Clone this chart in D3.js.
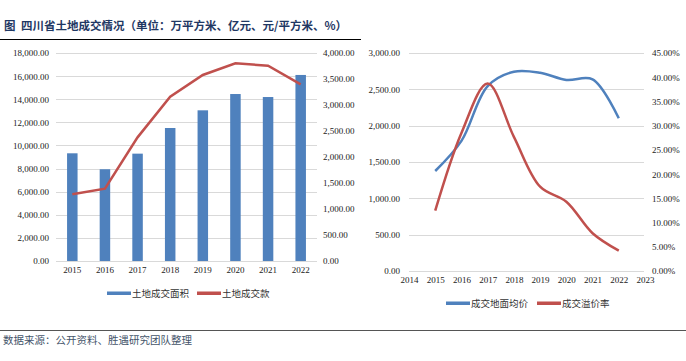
<!DOCTYPE html>
<html lang="zh">
<head>
    <meta charset="UTF-8">
    <title>四川省土地成交情况</title>
    <script src="https://d3js.org/d3.v7.min.js"></script>
</head>
<style>
    body { margin: 0; background: #fff; }
    text { font-family: "Liberation Serif", "DejaVu Serif", serif; fill: #222; }
    .cn { font-family: "Noto Sans CJK SC", sans-serif; }
    .grid line { stroke: #d9d9d9; }
</style>
<body>
<svg id="main" width="686" height="361"></svg>
<script>
    // left chart
    const years = ['2015', '2016', '2017', '2018', '2019', '2020', '2021', '2022'];
    const landArea = [9320, 7940, 9290, 11510, 13040, 14450, 14190, 16100];
    const landPay = [1283, 1391, 2378, 3160, 3577, 3801, 3756, 3397];
    // right chart
    const yearNums = [2015, 2016, 2017, 2018, 2019, 2020, 2021, 2022];
    const avgPrice = [1376, 1790, 2545, 2743, 2729, 2630, 2638, 2101];
    const premium = [0.1245, 0.285, 0.387, 0.277, 0.174, 0.143, 0.078, 0.042];
    const xTicks2 = [2014, 2015, 2016, 2017, 2018, 2019, 2020, 2021, 2022, 2023];

    const blue = '#4f81bd', red = '#c0504d';
    let svg = d3.select('svg#main');

    // title
    svg.append('text').attr('class', 'cn')
        .attr('x', 4).attr('y', 30)
        .style('font-size', '11.5px').style('font-weight', 'bold').style('fill', '#1f3864')
        .text('图');
    svg.append('text').attr('class', 'cn')
        .attr('x', 21).attr('y', 30)
        .style('font-size', '11.5px').style('font-weight', 'bold').style('fill', '#1f3864')
        .text('四川省土地成交情况（单位：万平方米、亿元、元/平方米、%）');
    svg.append('line').attr('x1', 0).attr('x2', 361).attr('y1', 39.5).attr('y2', 39.5)
        .attr('stroke', '#000').attr('stroke-width', 1);

    // ---- left chart ----
    let x1 = d3.scaleBand().domain(years).range([56, 317]);
    let yL = d3.scaleLinear().domain([0, 18000]).range([261, 53]);
    let yR = d3.scaleLinear().domain([0, 4000]).range([261, 53]);

    let g1 = svg.append('g');
    g1.append('g').attr('class', 'grid')
        .selectAll('line').data(yL.ticks(9)).enter().append('line')
        .attr('x1', 56).attr('x2', 317)
        .attr('y1', d => Math.round(yL(d)) + 0.5).attr('y2', d => Math.round(yL(d)) + 0.5);

    g1.append('g').attr('transform', 'translate(49,0)')
        .call(d3.axisLeft(yL).tickValues(d3.range(0, 18001, 2000)).tickFormat(d3.format(',.2f')).tickSize(0).tickPadding(0))
        .call(g => g.select('.domain').remove())
        .selectAll('text').style('font-size', '9px');
    g1.append('g').attr('transform', 'translate(323,0)')
        .call(d3.axisRight(yR).tickValues(d3.range(0, 4001, 500)).tickFormat(d3.format(',.2f')).tickSize(0).tickPadding(0))
        .call(g => g.select('.domain').remove())
        .selectAll('text').style('font-size', '9px');
    g1.append('g').attr('transform', 'translate(0,261)')
        .call(d3.axisBottom(x1).tickSize(0).tickPadding(6))
        .call(g => g.select('.domain').remove())
        .selectAll('text').style('font-size', '9px');

    let bw = 10.5;
    g1.selectAll('rect.bar').data(landArea).enter().append('rect')
        .attr('class', 'bar')
        .attr('x', (d, i) => x1(years[i]) + x1.bandwidth() / 2 - bw / 2)
        .attr('y', d => yL(d))
        .attr('width', bw)
        .attr('height', d => yL(0) - yL(d))
        .attr('fill', blue);

    g1.append('path').datum(landPay)
        .attr('fill', 'none').attr('stroke', red).attr('stroke-width', 2.5)
        .attr('d', d3.line().x((d, i) => x1(years[i]) + x1.bandwidth() / 2).y(d => yR(d)));

    // ---- right chart ----
    let x2 = d3.scaleLinear().domain([2014, 2023]).range([409, 645]);
    let yP = d3.scaleLinear().domain([0, 3000]).range([271, 53]);
    let yQ = d3.scaleLinear().domain([0, 0.45]).range([271, 53]);

    let g2 = svg.append('g');
    g2.append('g').attr('class', 'grid')
        .selectAll('line').data(d3.range(0, 3001, 500)).enter().append('line')
        .attr('x1', 409).attr('x2', 644)
        .attr('y1', d => Math.round(yP(d)) + 0.5).attr('y2', d => Math.round(yP(d)) + 0.5);

    g2.append('g').attr('transform', 'translate(400,0)')
        .call(d3.axisLeft(yP).tickValues(d3.range(0, 3001, 500)).tickFormat(d3.format(',.2f')).tickSize(0).tickPadding(0))
        .call(g => g.select('.domain').remove())
        .selectAll('text').style('font-size', '9px');
    g2.append('g').attr('transform', 'translate(652,0)')
        .call(d3.axisRight(yQ).tickValues(d3.range(0, 0.4501, 0.05)).tickFormat(d3.format('.2%')).tickSize(0).tickPadding(0))
        .call(g => g.select('.domain').remove())
        .selectAll('text').style('font-size', '9px');
    g2.append('g').attr('transform', 'translate(0,271)')
        .call(d3.axisBottom(x2).tickValues(xTicks2).tickFormat(d3.format('d')).tickSize(0).tickPadding(6))
        .call(g => g.select('.domain').remove())
        .selectAll('text').style('font-size', '9px');

    g2.append('path').datum(avgPrice)
        .attr('fill', 'none').attr('stroke', blue).attr('stroke-width', 2.5)
        .attr('d', d3.line().curve(d3.curveCatmullRom.alpha(0.5)).x((d, i) => x2(yearNums[i])).y(d => yP(d)));
    g2.append('path').datum(premium)
        .attr('fill', 'none').attr('stroke', red).attr('stroke-width', 2.5)
        .attr('d', d3.line().curve(d3.curveCatmullRom.alpha(0.5)).x((d, i) => x2(yearNums[i])).y(d => yQ(d)));

    // legends
    function legend(x, y, items) {
        let lg = svg.append('g').attr('transform', 'translate(' + x + ',' + y + ')');
        let off = 0;
        items.forEach(it => {
            lg.append('rect').attr('x', off).attr('y', -1.5).attr('width', 24).attr('height', 3.5).attr('fill', it.c);
            lg.append('text').attr('class', 'cn').attr('x', off + 25).attr('y', 3.5)
                .style('font-size', '9.5px').style('fill', '#333').text(it.t);
            off += it.w;
        });
    }
    legend(107, 293, [{t: '土地成交面积', c: blue, w: 90}, {t: '土地成交款', c: red, w: 90}]);
    legend(446, 303, [{t: '成交地面均价', c: blue, w: 91}, {t: '成交溢价率', c: red, w: 90}]);

    // footer
    svg.append('line').attr('x1', 0).attr('x2', 686).attr('y1', 330.5).attr('y2', 330.5)
        .attr('stroke', '#555').attr('stroke-width', 1);
    svg.append('text').attr('class', 'cn').attr('x', 3).attr('y', 344)
        .style('font-size', '10.5px').style('fill', '#44546a')
        .text('数据来源：公开资料、胜遇研究团队整理');
</script>
</body>
</html>
